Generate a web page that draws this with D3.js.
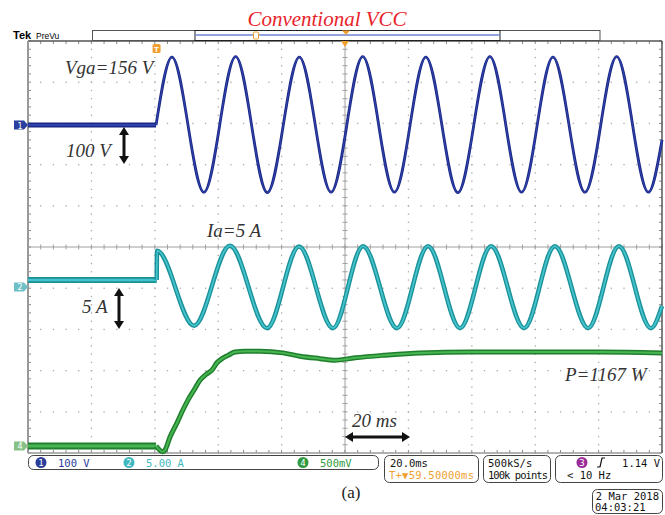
<!DOCTYPE html>
<html><head><meta charset="utf-8">
<script src="https://cdn.jsdelivr.net/npm/d3@7"></script>
<style>body{margin:0;background:#fff}svg{display:block}</style>
</head><body><svg id="c" width="665" height="515"></svg>
<script>
// ---------------- data (read from the screen capture) ----------------
// time base: 20 ms/div, 10 divisions
const timeDomainMs = [0, 200];
// CH1 grid voltage Vga (V), 100 V/div
const vgaSwitchMs = 40.4;
const vgaTime  = [0, 40.4, 45.4, 55.5, 65.5, 75.5, 85.6, 95.6, 105.6, 115.6, 125.5, 135.6, 145.7, 155.7, 165.6, 175.7, 185.7, 195.7, 200];
const vgaVolts = [0, 0,    165,  -163, 166,  -164, 165,  -163, 166,   -163,  165,   -164,  166,   -163,  165,   -163,  166,   -163,  -36];
// CH2 grid current Ia (A), 5 A/div
const iaSwitchMs = 40.6;
const iaTime = [0, 40.6, 40.7, 52.4, 63.7, 75.4, 85.5, 96.2, 105.7, 116.4, 126.2, 136.3, 146.1, 156.5, 166.2, 176.7, 186.4, 196.5, 200];
const iaAmps = [0.85, 0.85, 4.4, -4.7, 5.0, -5.0, 4.9, -5.0, 4.95, -5.0, 4.95, -5.0, 4.95, -5.0, 4.95, -5.0, 4.95, -5.0, -2.3];
// CH4 power signal (V), 500 mV/div
const pTime  = [0, 40.4, 42.5, 43.2, 44.8, 47.0, 48.9, 50.5, 52.4, 54.3, 56.2, 58.0, 59.6, 61.2, 63.1, 65.3, 68.5, 73.2, 80.4, 85.8, 92.1, 96.8, 103.2, 112.0, 123.7, 139.4, 158.4, 180.4, 200];
const pVolts = [0, 0,    -0.07,-0.05, 0.11, 0.28, 0.44, 0.56, 0.68, 0.80, 0.87, 0.92, 1.01, 1.06, 1.10, 1.14, 1.15, 1.15, 1.13, 1.09, 1.06, 1.04, 1.07,  1.10,  1.13,  1.14,  1.14,  1.14,  1.13];
// channel settings
const chNames    = ["1", "2", "4"];
const chScaleTxt = ["100 V", "5.00 A", "500mV"];
const chPerDiv   = [100, 5, 0.5];
const chOffsetDiv= [2.96, -0.97, -4.83];
// annotations
const title = "Conventional VCC";
const notes = ["Vga=156 V", "100 V", "Ia=5 A", "5 A", "P=1167 W", "20 ms"];
const statusTime = ["20.0ms", "T+\u25BC59.50000ms"];
const statusAcq  = ["500kS/s", "100k points"];
const statusTrig = ["3", "1.14 V", "< 10 Hz"];
const dateTxt = ["2 Mar 2018", "04:03:21"];

// ---------------- drawing ----------------
const svg = d3.select("#c");
const L = 28, R = 662, T = 41, B = 453;
const x = d3.scaleLinear().domain(timeDomainMs).range([L, R]);
const yDiv = d3.scaleLinear().domain([-5, 5]).range([B, T]);
const chScale = i => d3.scaleLinear()
  .domain([(-5 - chOffsetDiv[i]) * chPerDiv[i], (5 - chOffsetDiv[i]) * chPerDiv[i]])
  .range([B, T]);
const y1 = chScale(0), y2 = chScale(1), y4 = chScale(2);
const xMinor = d3.range(0, 50.001, 1).map(k => k / 5);
const xd = d => x(d * 20);

const g = svg.append("g");
// dotted grid
const dotG = g.append("g").attr("fill", "#a8a8a8");
d3.range(-4, 5).filter(d => d !== 0).forEach(dv => {
  xMinor.forEach(m => dotG.append("rect").attr("x", xd(m) - 0.6).attr("y", yDiv(dv) - 0.6).attr("width", 1.3).attr("height", 1.3));
});
const yMinor = d3.range(-25, 25.001, 1).map(k => k / 5);
d3.range(1, 10).filter(d => d !== 5).forEach(dv => {
  yMinor.forEach(m => dotG.append("rect").attr("x", xd(dv) - 0.6).attr("y", yDiv(m) - 0.6).attr("width", 1.3).attr("height", 1.3));
});
// center crosshair
const cross = g.append("g").attr("stroke", "#a0a0a0").attr("stroke-width", 1);
cross.append("line").attr("x1", L).attr("x2", R).attr("y1", yDiv(0)).attr("y2", yDiv(0));
cross.append("line").attr("x1", xd(5)).attr("x2", xd(5)).attr("y1", T).attr("y2", B);
xMinor.forEach(m => cross.append("line").attr("x1", xd(m)).attr("x2", xd(m)).attr("y1", yDiv(0) - 2.5).attr("y2", yDiv(0) + 2.5));
yMinor.forEach(m => cross.append("line").attr("y1", yDiv(m)).attr("y2", yDiv(m)).attr("x1", xd(5) - 2.5).attr("x2", xd(5) + 2.5));
// border ticks
const bt = g.append("g").attr("stroke", "#888").attr("stroke-width", 1);
xMinor.forEach(m => {
  bt.append("line").attr("x1", xd(m)).attr("x2", xd(m)).attr("y1", T).attr("y2", T + 3);
  bt.append("line").attr("x1", xd(m)).attr("x2", xd(m)).attr("y1", B - 3).attr("y2", B);
});
yMinor.forEach(m => {
  bt.append("line").attr("y1", yDiv(m)).attr("y2", yDiv(m)).attr("x1", L).attr("x2", L + 3);
  bt.append("line").attr("y1", yDiv(m)).attr("y2", yDiv(m)).attr("x1", R - 3).attr("x2", R);
});
// border
g.append("line").attr("x1", L).attr("x2", R).attr("y1", T).attr("y2", T).attr("stroke", "#555").attr("stroke-width", 1.5);
g.append("line").attr("x1", R).attr("x2", R).attr("y1", T).attr("y2", B).attr("stroke", "#555").attr("stroke-width", 1.5);
g.append("line").attr("x1", L).attr("x2", L).attr("y1", T).attr("y2", B).attr("stroke", "#999").attr("stroke-width", 2);
g.append("line").attr("x1", L).attr("x2", R).attr("y1", B).attr("y2", B).attr("stroke", "#999").attr("stroke-width", 1.5);

// traces
function trace(times, vals, ys, switchMs, dark, light, wFlat, wWave) {
  const pts = times.map((t, i) => ({t, v: vals[i]}));
  const flat = pts.filter(p => p.t <= switchMs);
  const wave = pts.filter(p => p.t >= switchMs);
  const lf = d3.line().x(p => x(p.t)).y(p => ys(p.v));
  const lw = d3.line().x(p => x(p.t)).y(p => ys(p.v)).curve(d3.curveMonotoneX);
  const tg = svg.append("g").attr("fill", "none").attr("stroke-linejoin", "round");
  tg.append("path").attr("d", lf(flat)).attr("stroke", dark).attr("stroke-width", wFlat);
  tg.append("path").attr("d", lf(flat)).attr("stroke", light).attr("stroke-width", wFlat * 0.4);
  tg.append("path").attr("d", lw(wave)).attr("stroke", dark).attr("stroke-width", wWave);
  tg.append("path").attr("d", lw(wave)).attr("stroke", light).attr("stroke-width", wWave * 0.4);
}
trace(pTime, pVolts, y4, 40.4, "#1f7f2c", "#48b553", 7, 5);
trace(iaTime, iaAmps, y2, iaSwitchMs, "#1a9099", "#45c3cb", 6, 4.5);
trace(vgaTime, vgaVolts, y1, vgaSwitchMs, "#1b2783", "#2f42ad", 5, 2.8);

// channel tags
const tagCol = ["#2b3f9e", "#6fbfc6", "#86c186"];
[y1(0), y2(0), y4(0)].forEach((yy, i) => {
  svg.append("path").attr("d", `M14,${yy-4.5}H24L28,${yy}L24,${yy+4.5}H14Z`).attr("fill", tagCol[i]);
  svg.append("text").attr("x", 20).attr("y", yy + 3.5).attr("text-anchor", "middle")
    .attr("font-family", "DejaVu Sans").attr("font-size", 8).attr("fill", "#fff").text(chNames[i]);
});

// top bar
svg.append("text").attr("x", 327).attr("y", 26).attr("text-anchor", "middle")
  .attr("font-family", "Liberation Serif").attr("font-style", "italic").attr("font-size", 21).attr("fill", "#e8232b").text(title);
svg.append("text").attr("x", 13).attr("y", 39).attr("font-family", "Liberation Sans").attr("font-weight", "bold").attr("font-size", 11).text("Tek");
svg.append("text").attr("x", 36).attr("y", 39).attr("font-family", "Liberation Sans").attr("font-size", 8.5).text("PreVu");
svg.append("rect").attr("x", 92.5).attr("y", 30.5).attr("width", 507.5).attr("height", 10).attr("fill", "#fff").attr("stroke", "#555");
svg.append("rect").attr("x", 195).attr("y", 30.5).attr("width", 305).attr("height", 10).attr("fill", "none").attr("stroke", "#222");
svg.append("line").attr("x1", 195).attr("x2", 500).attr("y1", 35).attr("y2", 35).attr("stroke", "#6f84d6").attr("stroke-width", 1.5);
svg.append("rect").attr("x", 253.5).attr("y", 32).attr("width", 5).attr("height", 7).attr("rx", 1).attr("fill", "#fff").attr("stroke", "#f0a030");
svg.append("path").attr("d", "M342,30.5L350,30.5L346,35Z").attr("fill", "#f0a030");
svg.append("path").attr("d", `M${xd(5)-4},${T}L${xd(5)+4},${T}L${xd(5)},${T+6}Z`).attr("fill", "#f0a030");
svg.append("rect").attr("x", x(vgaSwitchMs) - 3.5).attr("y", 44).attr("width", 8).attr("height", 9).attr("rx", 1.5).attr("fill", "#f0a030");
svg.append("text").attr("x", x(vgaSwitchMs) + 0.5).attr("y", 51.5).attr("text-anchor", "middle").attr("font-family", "Liberation Sans").attr("font-weight", "bold").attr("font-size", 8).attr("fill", "#fff").text("T");

// annotations
const ann = svg.append("g").attr("font-family", "Liberation Serif").attr("font-style", "italic").attr("font-size", 19).attr("fill", "#333");
ann.append("text").attr("x", 65).attr("y", 74).text(notes[0]);
ann.append("text").attr("x", 66).attr("y", 157).text(notes[1]);
ann.append("text").attr("x", 207).attr("y", 237).text(notes[2]);
ann.append("text").attr("x", 82).attr("y", 313).text(notes[3]);
ann.append("text").attr("x", 565).attr("y", 381).text(notes[4]);
ann.append("text").attr("x", 352).attr("y", 427).text(notes[5]);

function dblArrow(x1, y1a, x2, y2a) {
  const ang = Math.atan2(y2a - y1a, x2 - x1), hl = 8, hw = 5;
  const ux = Math.cos(ang), uy = Math.sin(ang);
  svg.append("line").attr("x1", x1 + ux * hl * 0.8).attr("y1", y1a + uy * hl * 0.8).attr("x2", x2 - ux * hl * 0.8).attr("y2", y2a - uy * hl * 0.8)
    .attr("stroke", "#111").attr("stroke-width", 3);
  const head = (px, py, dx, dy) => `M${px},${py}L${px - dx * hl - dy * hw},${py - dy * hl + dx * hw}L${px - dx * hl + dy * hw},${py - dy * hl - dx * hw}Z`;
  svg.append("path").attr("d", head(x2, y2a, ux, uy)).attr("fill", "#111");
  svg.append("path").attr("d", head(x1, y1a, -ux, -uy)).attr("fill", "#111");
}
dblArrow(124, 127, 124, 164);
dblArrow(119, 288, 119, 329);
dblArrow(345, 437, 410, 437);

// status bar
const st = svg.append("g").attr("font-family", "DejaVu Sans Mono").attr("font-size", 10.5);
const box = (x0, y0, w, h) => st.append("rect").attr("x", x0).attr("y", y0).attr("width", w).attr("height", h).attr("rx", 5).attr("fill", "#fff").attr("stroke", "#444").attr("stroke-width", 1);
box(28.5, 455.5, 350, 14);
box(384.5, 455.5, 94, 27);
box(483.5, 455.5, 67, 27);
box(555.5, 455.5, 107, 27);
const chCol = ["#2a3d9a", "#3fb8c0", "#2f9a3f"];
const chX = [41, 129, 303];
chNames.forEach((n, i) => {
  st.append("circle").attr("cx", chX[i]).attr("cy", 462.5).attr("r", 5.5).attr("fill", chCol[i]);
  st.append("text").attr("x", chX[i]).attr("y", 466).attr("text-anchor", "middle").attr("font-size", 9).attr("fill", "#fff").text(n);
  st.append("text").attr("x", chX[i] + 17).attr("y", 466.5).attr("fill", chCol[i]).text(chScaleTxt[i]);
});
st.append("text").attr("x", 390).attr("y", 466.5).attr("fill", "#111").text(statusTime[0]);
st.append("text").attr("x", 389).attr("y", 478.5).attr("fill", "#f0a030").attr("textLength", 85).text(statusTime[1]);
st.append("text").attr("x", 488).attr("y", 466.5).attr("fill", "#111").text(statusAcq[0]);
st.append("text").attr("x", 488).attr("y", 478.5).attr("fill", "#111").attr("textLength", 60).text(statusAcq[1]);
st.append("circle").attr("cx", 582).attr("cy", 462.5).attr("r", 5.5).attr("fill", "#9a2d98");
st.append("text").attr("x", 582).attr("y", 466).attr("text-anchor", "middle").attr("font-size", 9).attr("fill", "#fff").text(statusTrig[0]);
st.append("path").attr("d", "M597,467 L600,467 L602,458 L605,458").attr("fill", "none").attr("stroke", "#111").attr("stroke-width", 1.2);
st.append("text").attr("x", 660).attr("y", 466.5).attr("text-anchor", "end").attr("fill", "#111").text(statusTrig[1]);
st.append("text").attr("x", 567).attr("y", 478.5).attr("fill", "#111").text(statusTrig[2]);

svg.append("text").attr("x", 351).attr("y", 498).attr("text-anchor", "middle").attr("font-family", "Liberation Serif").attr("font-size", 17).attr("fill", "#222").text("(a)");
box(592.5, 489.5, 70, 24);
st.append("text").attr("x", 659).attr("y", 500).attr("text-anchor", "end").attr("fill", "#111").text(dateTxt[0]);
st.append("text").attr("x", 595).attr("y", 511).attr("fill", "#111").text(dateTxt[1]);
</script></body></html>
